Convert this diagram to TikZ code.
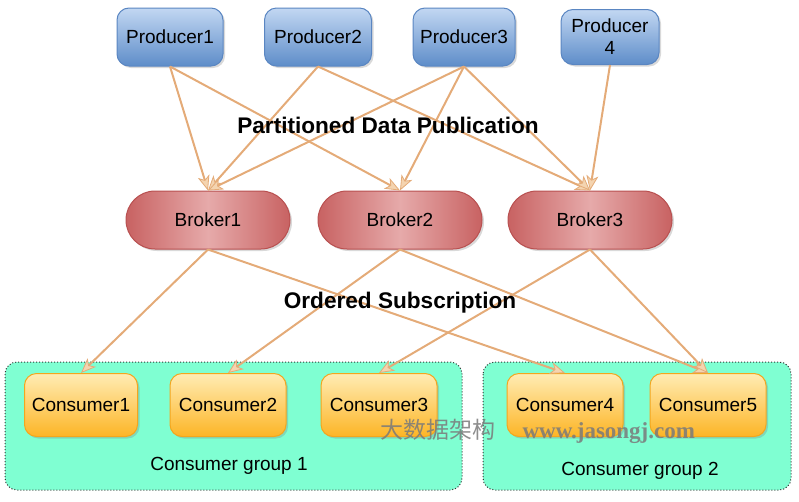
\documentclass[tikz,border=0pt]{standalone}
\usepackage{fontspec}
\setmainfont{Liberation Sans}
\newfontfamily\cjk{Noto Sans CJK SC}
\newfontfamily\wmserif{Liberation Serif}
\usetikzlibrary{arrows.meta,shadows}
\definecolor{arrowc}{HTML}{E4AB78}
\definecolor{arrowfill}{HTML}{F4D4B0}
\definecolor{prodtop}{HTML}{C2D7F2}
\definecolor{prodmid}{HTML}{86AADB}
\definecolor{prodbot}{HTML}{5E8DC9}
\definecolor{proddraw}{HTML}{5A86C2}
\definecolor{brkedge}{HTML}{C86262}
\definecolor{brkmid}{HTML}{E6AAAA}
\definecolor{brkdraw}{HTML}{B85050}
\definecolor{contop}{HTML}{FFECB4}
\definecolor{conmid}{HTML}{FFC94E}
\definecolor{conbot}{HTML}{FDB526}
\definecolor{condraw}{HTML}{F3A61E}
\definecolor{grpfill}{HTML}{7FFFD2}
\definecolor{wmgray}{HTML}{7A7A7A}
\pgfdeclarehorizontalshading{brokershade}{100bp}{color(0bp)=(brkedge); color(25bp)=(brkedge); color(50bp)=(brkmid); color(75bp)=(brkedge); color(100bp)=(brkedge)}
\tikzset{
  txt/.style={font=\fontsize{19}{22}\selectfont},
  prod/.style={txt, draw=proddraw, line width=1pt, rounded corners=12pt, top color=prodtop, middle color=prodmid, bottom color=prodbot,
    minimum height=58pt, inner sep=0pt, align=center, drop shadow={opacity=0.3, shadow xshift=2pt, shadow yshift=-2pt}},
  brk/.style={txt, draw=brkdraw, line width=1pt, rounded corners=29pt, shading=brokershade,
    minimum width=164pt, minimum height=58pt, inner sep=0pt, drop shadow={opacity=0.3, shadow xshift=2pt, shadow yshift=-2pt}},
  cons/.style={txt, draw=condraw, line width=1pt, rounded corners=12pt, top color=contop, middle color=conmid, bottom color=conbot,
    minimum height=63pt, inner sep=0pt, drop shadow={opacity=0.3, shadow xshift=2pt, shadow yshift=-2pt}},
  grp/.style={draw=black!80, dotted, line width=1pt, fill=grpfill, rounded corners=12pt},
  conn/.style={draw=arrowc, line width=2pt, -{Stealth[length=15pt,width=12pt,inset=4pt,fill=arrowfill,line width=0.8pt]}},
  heading/.style={font=\bfseries\fontsize{22.6}{25}\selectfont},
}
\begin{document}
\begin{tikzpicture}[x=1pt,y=-1pt]
\useasboundingbox (0,0) rectangle (799,501);
% groups
\draw[grp] (5,362) rectangle (462,490);
\draw[grp] (483,362) rectangle (791,490);
\node[txt] (g1) at (229,466) {Consumer group 1};
\node[txt] (g2) at (640,471) {Consumer group 2};
% producers
\node[prod, minimum width=106pt] (p1) at (170,37) {Producer1};
\node[prod, minimum width=107pt] (p2) at (318,37) {Producer2};
\node[prod, minimum width=102pt] (p3) at (464,37) {Producer3};
\node[prod, minimum width=98pt, minimum height=55pt] (p4) at (610,37) {Producer\\4};
% brokers
\node[brk] (b1) at (208,220) {Broker1};
\node[brk] (b2) at (400,220) {Broker2};
\node[brk] (b3) at (590,220) {Broker3};
% consumers
\node[cons, minimum width=113pt] (c1) at (81,405) {Consumer1};
\node[cons, minimum width=116pt] (c2) at (228,405) {Consumer2};
\node[cons, minimum width=116pt] (c3) at (379,405) {Consumer3};
\node[cons, minimum width=116pt] (c4) at (565,405) {Consumer4};
\node[cons, minimum width=116pt] (c5) at (708,405) {Consumer5};
% producer -> broker
\draw[conn] (p1.south) -- (b1.north);
\draw[conn] (p1.south) -- (b2.north);
\draw[conn] (p2.south) -- (b1.north);
\draw[conn] (p2.south) -- (b3.north);
\draw[conn] (p3.south) -- (b1.north);
\draw[conn] (p3.south) -- (b2.north);
\draw[conn] (p3.south) -- (b3.north);
\draw[conn] (p4.south) -- (b3.north);
% broker -> consumer
\draw[conn] (b1.south) -- (c1.north);
\draw[conn] (b1.south) -- (c4.north);
\draw[conn] (b2.south) -- (c2.north);
\draw[conn] (b2.south) -- (c5.north);
\draw[conn] (b3.south) -- (c3.north);
\draw[conn] (b3.south) -- (c5.north);
% headings
\node[heading] (h1) at (388,125) {Partitioned Data Publication};
\node[heading] (h2) at (400,303) {Ordered Subscription};
% watermark
\node[text=wmgray, opacity=0.85, font=\cjk\fontsize{23}{26}\selectfont, anchor=base west] (wm1) at (377,438) {大数据架构};
\node[text=wmgray, opacity=0.85, font=\wmserif\bfseries\fontsize{23}{26}\selectfont, anchor=base west] (wm2) at (519,438) {www.jasongj.com};
\end{tikzpicture}
\end{document}
